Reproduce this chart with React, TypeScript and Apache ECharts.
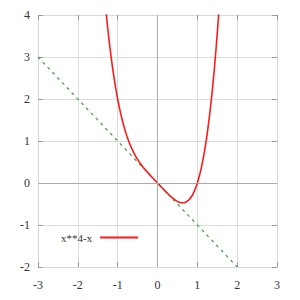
import React, { useEffect, useRef } from "react";
import * as echarts from "echarts";

const curveX = [-1.3, -1.25, -1.2, -1.15, -1.1, -1.05, -1.0, -0.95, -0.9, -0.85, -0.8, -0.75, -0.7, -0.65, -0.6, -0.55, -0.5, -0.45, -0.4, -0.35, -0.3, -0.25, -0.2, -0.15, -0.1, -0.05, 0, 0.05, 0.1, 0.15, 0.2, 0.25, 0.3, 0.35, 0.4, 0.45, 0.5, 0.55, 0.6, 0.65, 0.7, 0.75, 0.8, 0.85, 0.9, 0.95, 1.0, 1.05, 1.1, 1.15, 1.2, 1.25, 1.3, 1.35, 1.4, 1.45, 1.5, 1.55, 1.6];
const curveY = [4.156, 3.691, 3.274, 2.899, 2.564, 2.266, 2.0, 1.765, 1.556, 1.372, 1.21, 1.066, 0.94, 0.829, 0.73, 0.642, 0.5625, 0.491, 0.426, 0.365, 0.308, 0.254, 0.202, 0.151, 0.1, 0.05, 0, -0.05, -0.1, -0.15, -0.198, -0.246, -0.292, -0.335, -0.374, -0.409, -0.4375, -0.459, -0.47, -0.472, -0.46, -0.434, -0.39, -0.328, -0.244, -0.136, 0, 0.166, 0.364, 0.599, 0.874, 1.191, 1.556, 1.972, 2.442, 2.971, 3.5625, 4.222, 4.954];
const lineX = [-3, 2];
const lineY = [3, -2];
const curveName = "x**4-x";

const labelStyle = { fontFamily: "Liberation Serif", fontSize: 12, color: "#333" };

export default function App() {
  const ref = useRef<HTMLDivElement>(null);
  useEffect(() => {
    const chart = echarts.init(ref.current!, null, { renderer: "svg" });
    const axisCommon = {
      type: "value" as const,
      interval: 1,
      axisLine: { show: true, onZero: false, lineStyle: { color: "#d8d8d8", width: 1 } },
      axisTick: { show: true, inside: true, length: 5, lineStyle: { color: "#999" } },
      splitLine: { show: true, lineStyle: { color: "#dcdcdc", width: 1 } },
    };
    chart.setOption({
      animation: false,
      backgroundColor: "#fff",
      grid: { left: 38, right: 23, top: 15, bottom: 33 },
      legend: {
        left: 56,
        top: 227,
        align: "right",
        icon: "rect",
        itemWidth: 38,
        itemHeight: 2,
        itemGap: 8,
        textStyle: { ...labelStyle, fontSize: 11, padding: [0, 3, 0, 0] },
        data: [curveName],
      },
      xAxis: [
        { ...axisCommon, min: -3, max: 3, position: "bottom", axisLabel: { ...labelStyle, margin: 12 } },
        { ...axisCommon, min: -3, max: 3, position: "top", axisLabel: { show: false }, splitLine: { show: false } },
      ],
      yAxis: [
        { ...axisCommon, min: -2, max: 4, position: "left", axisLabel: { ...labelStyle, margin: 8 } },
        { ...axisCommon, min: -2, max: 4, position: "right", axisLabel: { show: false }, splitLine: { show: false } },
      ],
      series: [
        {
          name: "zero",
          type: "line",
          data: [],
          silent: true,
          markLine: {
            silent: true,
            symbol: "none",
            label: { show: false },
            lineStyle: { color: "#aaa", type: "solid", width: 1 },
            data: [{ xAxis: 0 }, { yAxis: 0 }],
          },
        },
        {
          name: "y=-x",
          type: "line",
          symbol: "none",
          silent: true,
          data: lineX.map((x, i) => [x, lineY[i]]),
          lineStyle: { color: "#3aa03a", width: 1.2, type: [3, 4] },
        },
        {
          name: curveName,
          type: "line",
          symbol: "none",
          smooth: true,
          clip: true,
          data: curveX.map((x, i) => [x, curveY[i]]),
          lineStyle: { color: "#ff1a1a", width: 1.6 },
          itemStyle: { color: "#ff1a1a" },
        },
      ],
    });
    return () => chart.dispose();
  }, []);
  return <div ref={ref} style={{ width: 300, height: 300, position: "absolute", left: 0, top: 0 }} />;
}
